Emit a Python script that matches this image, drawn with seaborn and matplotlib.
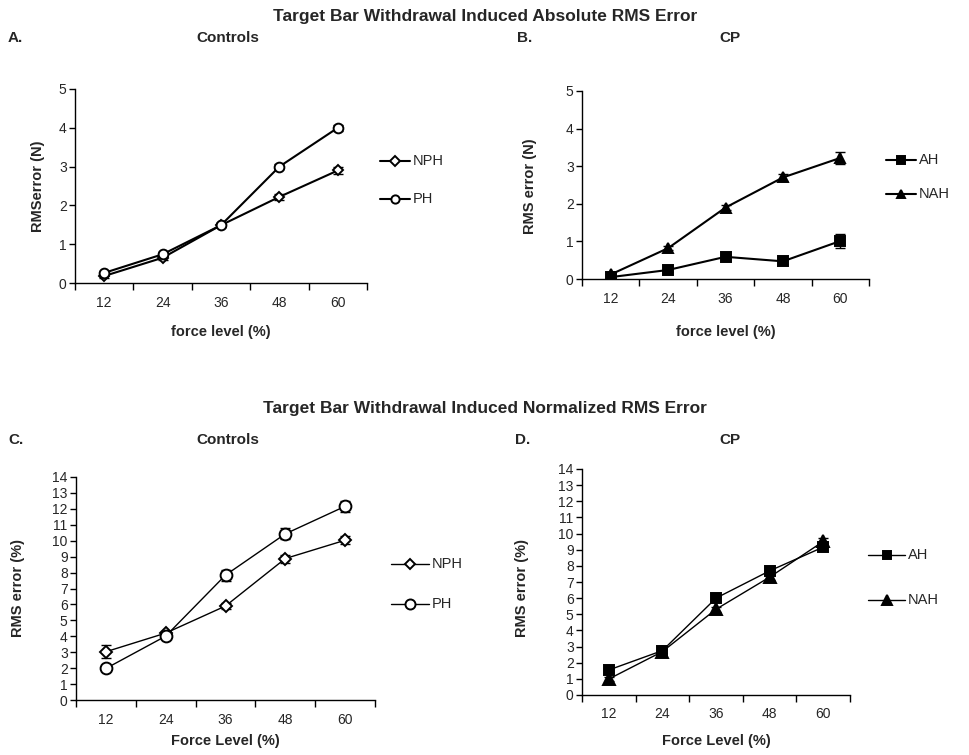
import matplotlib
matplotlib.use("Agg")
import matplotlib.pyplot as plt
import seaborn as sns
import pandas as pd
import numpy as np
from matplotlib.lines import Line2D

sns.set_theme(style="white")
plt.rcParams['font.family'] = ['Liberation Sans', 'DejaVu Sans']

force_levels = ["12", "24", "36", "48", "60"]

# Panel A: Controls absolute RMS error (N)
a_nph = [0.18, 0.65, 1.49, 2.22, 2.90]
a_nph_err = [0.04, 0.05, 0.05, 0.07, 0.10]
a_ph = [0.26, 0.74, 1.49, 3.00, 4.00]
a_ph_err = [0.05, 0.05, 0.05, 0.07, 0.07]

# Panel B: CP absolute RMS error (N)
b_ah = [0.05, 0.24, 0.59, 0.47, 1.01]
b_ah_err = [0.03, 0.05, 0.07, 0.08, 0.18]
b_nah = [0.12, 0.82, 1.90, 2.70, 3.22]
b_nah_err = [0.04, 0.06, 0.06, 0.10, 0.17]

# Panel C: Controls normalized RMS error (%)
c_nph = [3.03, 4.20, 5.90, 8.88, 10.03]
c_nph_err = [0.40, 0.15, 0.20, 0.25, 0.25]
c_ph = [1.98, 4.01, 7.84, 10.43, 12.16]
c_ph_err = [0.15, 0.20, 0.35, 0.35, 0.35]

# Panel D: CP normalized RMS error (%)
d_ah = [1.55, 2.75, 6.00, 7.69, 9.16]
d_ah_err = [0.15, 0.15, 0.20, 0.20, 0.20]
d_nah = [0.99, 2.69, 5.31, 7.30, 9.51]
d_nah_err = [0.10, 0.10, 0.15, 0.20, 0.20]

W, H = 969, 755
fig = plt.figure(figsize=(W / 100, H / 100), dpi=100)


def fx(px):
    return px / W


def fy(py):
    return 1 - py / H


def rect(l, t, r, b):
    return [fx(l), fy(b), fx(r) - fx(l), fy(t) - fy(b)]


styles = {
    "NPH": dict(marker="D", mfc="white"),
    "PH": dict(marker="o", mfc="white"),
    "AH": dict(marker="s", mfc="black"),
    "NAH": dict(marker="^", mfc="black"),
}

TICK_FS = 10


def panel(ax, series, ymax, lw, sizes):
    x = np.arange(len(force_levels))
    rows = []
    for name, vals, errs in series:
        for i, v in enumerate(vals):
            rows.append(dict(pos=x[i], value=v, series=name))
    df = pd.DataFrame(rows)
    handles = []
    for (name, vals, errs), ms in zip(series, sizes):
        st = styles[name]
        sub = df[df.series == name]
        sns.lineplot(data=sub, x="pos", y="value", ax=ax, color="black",
                     linewidth=lw, marker=st["marker"], markersize=ms,
                     markerfacecolor=st["mfc"], markeredgecolor="black",
                     markeredgewidth=1.4, legend=False, zorder=3)
        ax.errorbar(x, vals, yerr=errs, fmt="none", ecolor="black",
                    elinewidth=1.0, capsize=3.5, capthick=1.0, zorder=2)
        handles.append(Line2D([0], [0], color="black", linewidth=lw,
                              marker=st["marker"], markersize=ms * 0.85,
                              markerfacecolor=st["mfc"], markeredgecolor="black",
                              markeredgewidth=1.4))
    ax.set_xlim(-0.5, len(force_levels) - 0.5)
    ax.set_ylim(0, ymax)
    ax.set_yticks(range(0, ymax + 1))
    ax.set_xticks(np.arange(-0.5, len(force_levels), 1.0))
    ax.set_xticklabels([])
    ax.set_xticks(x, minor=True)
    ax.set_xticklabels(force_levels, minor=True)
    ax.tick_params(axis="x", which="major", direction="out", length=5, width=1, color="black")
    ax.tick_params(axis="x", which="minor", length=0, pad=9, labelsize=TICK_FS)
    ax.tick_params(axis="y", direction="out", length=4, width=1, color="black",
                   labelsize=TICK_FS, pad=2)
    ax.tick_params(axis="both", bottom=True, left=True)
    for s in ["top", "right"]:
        ax.spines[s].set_visible(False)
    for s in ["left", "bottom"]:
        ax.spines[s].set_color("black")
        ax.spines[s].set_linewidth(1.0)
    ax.set_xlabel("")
    ax.set_ylabel("")
    ax.grid(False)
    return handles


axA = fig.add_axes(rect(75, 89, 367, 283))
hA = panel(axA, [("NPH", a_nph, a_nph_err), ("PH", a_ph, a_ph_err)], 5, 1.5, [5.5, 7])
axB = fig.add_axes(rect(582, 91, 869, 279))
hB = panel(axB, [("AH", b_ah, b_ah_err), ("NAH", b_nah, b_nah_err)], 5, 1.5, [6.5, 7])
axC = fig.add_axes(rect(76, 477, 375, 700))
hC = panel(axC, [("NPH", c_nph, c_nph_err), ("PH", c_ph, c_ph_err)], 14, 1.0, [6.0, 8.5])
axD = fig.add_axes(rect(582, 469, 850, 695))
hD = panel(axD, [("AH", d_ah, d_ah_err), ("NAH", d_nah, d_nah_err)], 14, 1.0, [7.3, 8.0])


def legend_at(handles, labels, x0, y0, dy, length):
    lx = [fx(x0), fx(x0 + length)]
    for i, (h, lab) in enumerate(zip(handles, labels)):
        py = y0 + i * dy
        ln = Line2D(lx, [fy(py), fy(py)], transform=fig.transFigure, color="black",
                    linewidth=h.get_linewidth())
        fig.add_artist(ln)
        mk = Line2D([fx(x0 + length / 2)], [fy(py)], transform=fig.transFigure,
                    marker=h.get_marker(), markersize=h.get_markersize(),
                    markerfacecolor=h.get_markerfacecolor(), markeredgecolor="black",
                    markeredgewidth=1.4, linestyle="none")
        fig.add_artist(mk)
        fig.text(fx(x0 + length + 3), fy(py), lab, ha="left", va="center", fontsize=10.5)


legend_at(hA, ["NPH", "PH"], 380, 161, 38, 30)
legend_at(hB, ["AH", "NAH"], 886, 160, 34, 30)
legend_at(hC, ["NPH", "PH"], 391, 564, 40, 38)
legend_at(hD, ["AH", "NAH"], 868, 555, 45, 37)

sub = dict(fontweight="bold", fontsize=11)
lab = dict(fontweight="bold", fontsize=10.5)
fig.text(fx(485), fy(16), "Target Bar Withdrawal Induced Absolute RMS Error",
         ha="center", va="center", fontweight="bold", fontsize=12.5)
fig.text(fx(485), fy(408), "Target Bar Withdrawal Induced Normalized RMS Error",
         ha="center", va="center", fontweight="bold", fontsize=12.5)
fig.text(fx(8), fy(38), "A.", ha="left", va="center", **sub)
fig.text(fx(228), fy(38), "Controls", ha="center", va="center", **sub)
fig.text(fx(517), fy(38), "B.", ha="left", va="center", **sub)
fig.text(fx(730), fy(38), "CP", ha="center", va="center", **sub)
fig.text(fx(8), fy(440), "C.", ha="left", va="center", **sub)
fig.text(fx(228), fy(440), "Controls", ha="center", va="center", **sub)
fig.text(fx(515), fy(440), "D.", ha="left", va="center", **sub)
fig.text(fx(730), fy(440), "CP", ha="center", va="center", **sub)

fig.text(fx(38), fy(186), "RMSerror (N)", rotation=90, ha="center", va="center", **lab)
fig.text(fx(530), fy(186), "RMS error (N)", rotation=90, ha="center", va="center", **lab)
fig.text(fx(18), fy(588), "RMS error (%)", rotation=90, ha="center", va="center", **lab)
fig.text(fx(522), fy(588), "RMS error (%)", rotation=90, ha="center", va="center", **lab)
fig.text(fx(221), fy(332), "force level (%)", ha="center", va="center", **lab)
fig.text(fx(726), fy(332), "force level (%)", ha="center", va="center", **lab)
fig.text(fx(225), fy(741), "Force Level (%)", ha="center", va="center", **lab)
fig.text(fx(716), fy(741), "Force Level (%)", ha="center", va="center", **lab)

fig.savefig("out.png", dpi=100, facecolor="white")
